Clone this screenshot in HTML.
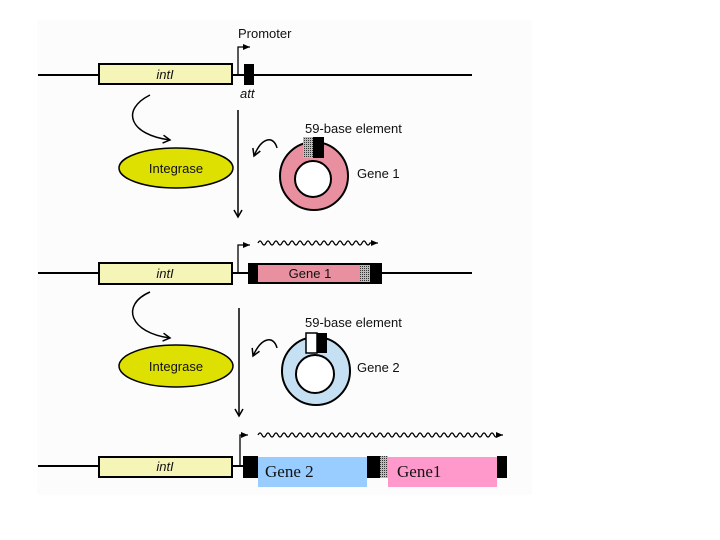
<!DOCTYPE html>
<html><head><meta charset="utf-8"><style>
html,body{margin:0;padding:0;background:#fff;width:720px;height:540px;overflow:hidden}
svg{display:block}
text{font-family:"Liberation Sans",sans-serif;font-size:13px;fill:#111}
</style></head><body>
<svg width="720" height="540" viewBox="0 0 720 540" xmlns="http://www.w3.org/2000/svg">
<defs>
<marker id="ah" markerWidth="10" markerHeight="10" refX="8" refY="5" orient="auto" markerUnits="userSpaceOnUse">
<path d="M1,1 L8,5 L1,9" fill="none" stroke="#000" stroke-width="1.5"/></marker>
<marker id="tri" markerWidth="8" markerHeight="8" refX="7" refY="4" orient="auto" markerUnits="userSpaceOnUse">
<path d="M0,1 L7,4 L0,7 Z" fill="#000"/></marker>
<pattern id="dots" width="2" height="2" patternUnits="userSpaceOnUse">
<rect width="2" height="2" fill="#bbb"/><rect width="1" height="1" fill="#333"/></pattern>
</defs>
<rect x="37" y="20" width="495" height="475" fill="#fcfcfc"/>

<!-- Row 1 -->
<line x1="38" y1="75" x2="472" y2="75" stroke="#000" stroke-width="2"/>
<rect x="99" y="64" width="133" height="20" fill="#f5f5b8" stroke="#000" stroke-width="2"/>
<text x="165" y="79" text-anchor="middle" font-style="italic">intI</text>
<rect x="244" y="64" width="10" height="21" fill="#000"/>
<path d="M238,75 V47 H250" fill="none" stroke="#000" stroke-width="1.3" marker-end="url(#tri)"/>
<text x="238" y="38">Promoter</text>
<text x="240" y="98" font-style="italic">att</text>
<path d="M150,95 C120,110 130,135 170,140" fill="none" stroke="#000" stroke-width="1.5" marker-end="url(#ah)"/>
<ellipse cx="176" cy="168" rx="57" ry="20" fill="#dde000" stroke="#000" stroke-width="1.5"/>
<text x="176" y="173" text-anchor="middle">Integrase</text>
<line x1="238" y1="110" x2="238" y2="217" stroke="#000" stroke-width="1.5" marker-end="url(#ah)"/>
<path d="M277,148 C274,136 262,136 254,156" fill="none" stroke="#000" stroke-width="1.5" marker-end="url(#ah)"/>
<circle cx="314" cy="176" r="34" fill="#e8909f" stroke="#000" stroke-width="2"/>
<circle cx="313" cy="179" r="18" fill="#fff" stroke="#000" stroke-width="2"/>
<rect x="303" y="137" width="10" height="21" fill="url(#dots)"/>
<rect x="313" y="137" width="11" height="21" fill="#000"/>
<text x="305" y="133">59-base element</text>
<text x="357" y="178">Gene 1</text>

<!-- Row 2 -->
<line x1="38" y1="273" x2="472" y2="273" stroke="#000" stroke-width="2"/>
<rect x="99" y="263" width="133" height="21" fill="#f5f5b8" stroke="#000" stroke-width="2"/>
<text x="165" y="278" text-anchor="middle" font-style="italic">intI</text>
<rect x="248" y="263" width="134" height="21" fill="#000"/>
<rect x="258" y="265" width="102" height="17" fill="#e8909f"/>
<rect x="360" y="265" width="10" height="17" fill="url(#dots)"/>
<text x="310" y="278" text-anchor="middle">Gene 1</text>
<path d="M238,273 V245 H250" fill="none" stroke="#000" stroke-width="1.3" marker-end="url(#tri)"/>
<path d="M258,243 q2,-4 4,0 t4,0 t4,0 t4,0 t4,0 t4,0 t4,0 t4,0 t4,0 t4,0 t4,0 t4,0 t4,0 t4,0 t4,0 t4,0 t4,0 t4,0 t4,0 t4,0 t4,0 t4,0 t4,0 t4,0 t4,0 t4,0 t4,0 t4,0 l8,0" fill="none" stroke="#000" stroke-width="1.3" marker-end="url(#tri)"/>
<path d="M150,292 C120,305 130,333 170,338" fill="none" stroke="#000" stroke-width="1.5" marker-end="url(#ah)"/>
<ellipse cx="176" cy="366" rx="57" ry="21" fill="#dde000" stroke="#000" stroke-width="1.5"/>
<text x="176" y="371" text-anchor="middle">Integrase</text>
<line x1="239" y1="308" x2="239" y2="416" stroke="#000" stroke-width="1.5" marker-end="url(#ah)"/>
<path d="M277,348 C274,336 262,336 253,356" fill="none" stroke="#000" stroke-width="1.5" marker-end="url(#ah)"/>
<circle cx="316" cy="371" r="34" fill="#c5e0f2" stroke="#000" stroke-width="2"/>
<circle cx="315" cy="374" r="19" fill="#fff" stroke="#000" stroke-width="2"/>
<rect x="306" y="333" width="11" height="20" fill="#fff" stroke="#000" stroke-width="1.5"/>
<rect x="317" y="333" width="10" height="20" fill="#000"/>
<text x="305" y="327">59-base element</text>
<text x="357" y="372">Gene 2</text>

<!-- Row 3 -->
<line x1="38" y1="466" x2="244" y2="466" stroke="#000" stroke-width="2"/>
<rect x="99" y="457" width="133" height="20" fill="#f5f5b8" stroke="#000" stroke-width="2"/>
<text x="165" y="471" text-anchor="middle" font-style="italic">intI</text>
<rect x="243" y="456" width="15" height="22" fill="#000"/>
<rect x="367" y="456" width="13" height="22" fill="#000"/>
<rect x="380" y="456" width="8" height="22" fill="url(#dots)"/>
<rect x="497" y="456" width="10" height="22" fill="#000"/>
<rect x="258" y="457" width="109" height="30" fill="#99ccff"/>
<rect x="388" y="457" width="109" height="30" fill="#ff99cc"/>
<text x="265" y="477" style="font-family:'Liberation Serif',serif;font-size:17px">Gene 2</text>
<text x="397" y="477" style="font-family:'Liberation Serif',serif;font-size:17px">Gene1</text>
<path d="M240,466 V435 H248" fill="none" stroke="#000" stroke-width="1.3" marker-end="url(#tri)"/>
<path d="M258,435 q2,-4 4,0 t4,0 t4,0 t4,0 t4,0 t4,0 t4,0 t4,0 t4,0 t4,0 t4,0 t4,0 t4,0 t4,0 t4,0 t4,0 t4,0 t4,0 t4,0 t4,0 t4,0 t4,0 t4,0 t4,0 t4,0 t4,0 t4,0 t4,0 t4,0 t4,0 t4,0 t4,0 t4,0 t4,0 t4,0 t4,0 t4,0 t4,0 t4,0 t4,0 t4,0 t4,0 t4,0 t4,0 t4,0 t4,0 t4,0 t4,0 t4,0 t4,0 t4,0 t4,0 t4,0 t4,0 t4,0 t4,0 t4,0 t4,0 t4,0 t4,0 l5,0" fill="none" stroke="#000" stroke-width="1.3" marker-end="url(#tri)"/>
</svg>
</body></html>
